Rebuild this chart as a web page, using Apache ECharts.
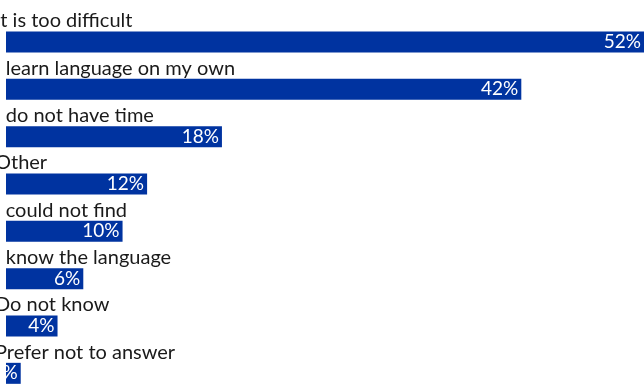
<!DOCTYPE html>
<html><head><meta charset="utf-8">
<script src="https://cdn.jsdelivr.net/npm/echarts@6/dist/echarts.min.js"></script>
<style>html,body{margin:0;padding:0;background:#fff}#c{width:644px;height:385px}</style>
</head><body><div id="c"></div>
<script>
const categories = ["It is too difficult","I learn language on my own","I do not have time","Other","I could not find","I know the language","Do not know","Prefer not to answer"];
const values = [52, 42, 17.6, 11.5, 9.5, 6.3, 4.2, 1.2];
const xMax = 52;

const chart = echarts.init(document.getElementById('c'), null, {renderer:'canvas'});
chart.setOption({
  animation:false,
  grid:{left:6,right:0,top:18.3,bottom:-12,containLabel:false,outerBoundsMode:'none'},
  xAxis:{type:'value',min:0,max:xMax,show:false},
  yAxis:{type:'category',data:categories,inverse:true,
    axisLine:{show:false},axisTick:{show:false},splitLine:{show:false},
    axisLabel:{inside:true,margin:-11,align:'left',verticalAlign:'bottom',padding:[0,0,11,0],
      color:'#1a1a1a',fontSize:20,fontFamily:'Lato'}},
  series:[{type:'bar',data:values,barWidth:21,
    itemStyle:{color:'#0033a0'},
    label:{show:true,position:'insideRight',distance:3,color:'#fff',fontSize:19,fontFamily:'Lato',
      formatter:p=>Math.round(p.value)+'%'}}]
});
</script></body></html>
